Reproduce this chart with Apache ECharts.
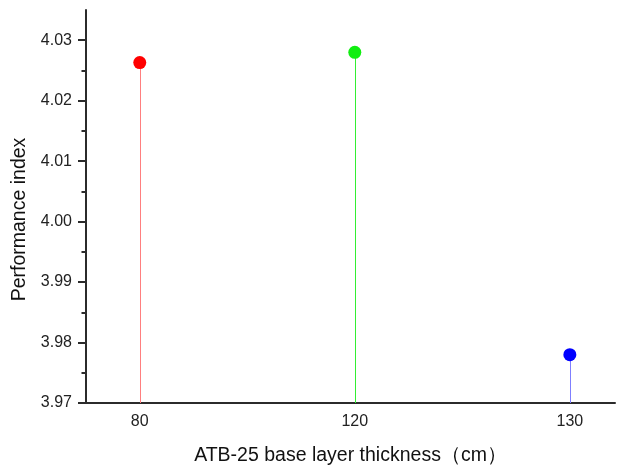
<!DOCTYPE html>
<html>
<head>
<meta charset="utf-8">
<script src="https://cdn.jsdelivr.net/npm/echarts@6/dist/echarts.min.js"></script>
<style>html,body{margin:0;padding:0;background:#fff}#c{width:617px;height:471px}</style>
</head>
<body>
<div id="c"></div>
<script>
var categories = ['80', '120', '130'];
var values = [4.0263, 4.0280, 3.9780];
var dotColors = ['#ff0000', '#11ee11', '#0000ff'];
var stemColors = ['#ff7f7f', '#33ee33', '#7f7fff'];
var yTicks = [3.97, 3.98, 3.99, 4.00, 4.01, 4.02, 4.03];
var yMin = 3.97, yMax = 4.035;

var chart = echarts.init(document.getElementById('c'));
var idx = categories.map(function (c, i) { return i; });
var font = 'Arial, "Liberation Sans", sans-serif';

var option = {
  animation: false,
  grid: { left: 86, right: 2, top: 10, bottom: 65 },
  xAxis: {
    type: 'value',
    min: -0.25, max: 2.21,
    name: 'ATB-25 base layer thickness（cm）',
    nameLocation: 'middle', nameGap: 43,
    nameTextStyle: { fontFamily: font, fontSize: 19.5, color: '#111' },
    axisLine: { show: true, onZero: false, lineStyle: { color: '#2b2b2b', width: 2 } },
    axisTick: { show: false },
    splitLine: { show: false },
    axisLabel: {
      customValues: idx, margin: 11,
      fontFamily: font, fontSize: 16, color: '#222',
      formatter: function (v) { return categories[Math.round(v)]; }
    }
  },
  yAxis: {
    type: 'value',
    min: yMin, max: yMax, interval: 0.01,
    name: 'Performance index',
    nameLocation: 'middle', nameGap: 56,
    nameTextStyle: { fontFamily: font, fontSize: 19.5, color: '#111', padding: [0, 26, 0, 0] },
    axisLine: { show: true, onZero: false, lineStyle: { color: '#2b2b2b', width: 2 } },
    axisTick: { show: true, inside: false, length: 8, lineStyle: { color: '#2b2b2b', width: 2 }, customValues: yTicks },
    minorTick: { show: true, splitNumber: 2, length: 4.5, lineStyle: { color: '#2b2b2b', width: 2 } },
    splitLine: { show: false },
    axisLabel: {
      customValues: yTicks, margin: 14,
      fontFamily: font, fontSize: 16, color: '#222',
      formatter: function (v) { return v.toFixed(2); }
    }
  },
  series: [
    {
      type: 'custom',
      renderItem: function (params, api) {
        var i = api.value(0);
        var top = api.coord([i, api.value(1)]);
        var bot = api.coord([i, yMin]);
        var x = Math.round(top[0]) + 0.5;
        return {
          type: 'line',
          shape: { x1: x, y1: top[1], x2: x, y2: bot[1] },
          style: { stroke: stemColors[i], lineWidth: 1 }
        };
      },
      data: idx.map(function (i) { return [i, values[i]]; }),
      z: 1
    },
    {
      type: 'scatter',
      symbol: 'circle',
      symbolSize: 13,
      data: idx.map(function (i) {
        return { value: [i, values[i]], itemStyle: { color: dotColors[i], opacity: 1 } };
      }),
      z: 2
    }
  ]
};
chart.setOption(option);
</script>
</body>
</html>
